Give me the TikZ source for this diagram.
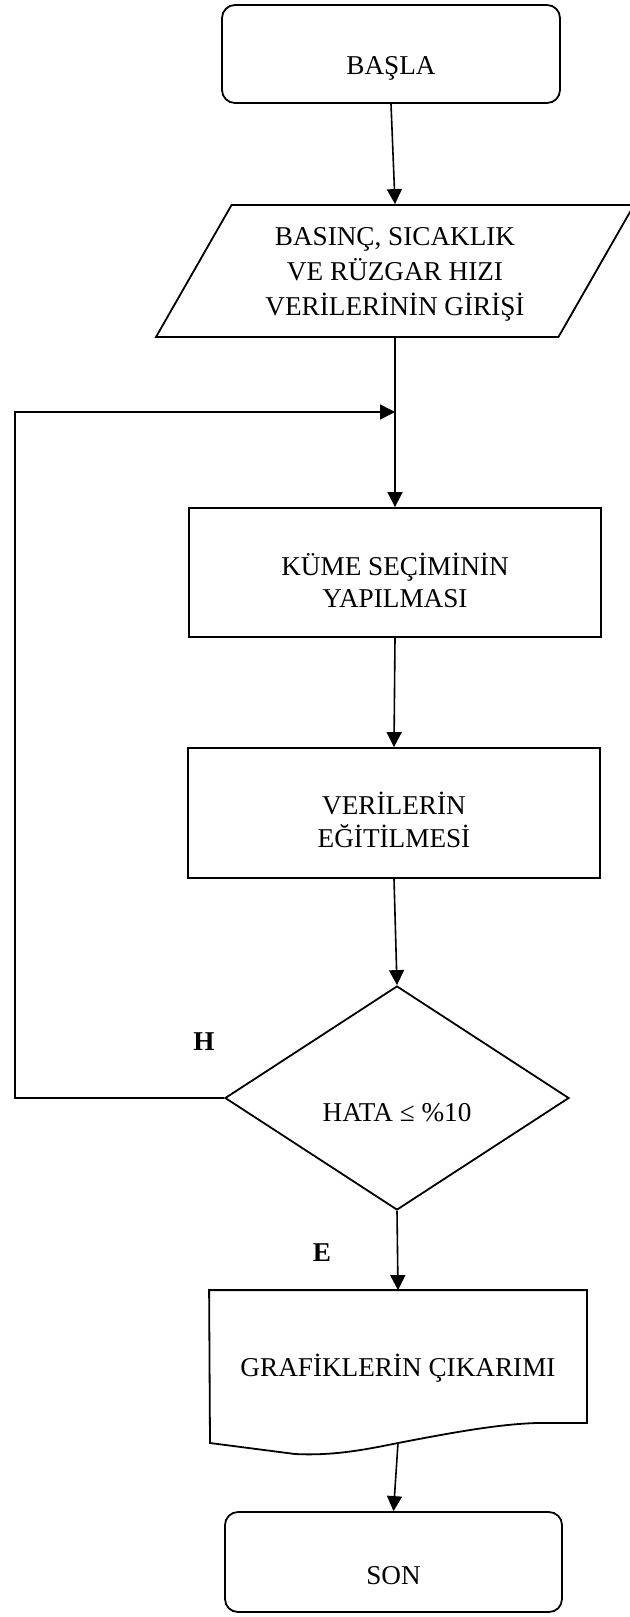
\documentclass[tikz,border=0pt]{standalone}
\usepackage{fontspec}
\setmainfont{Liberation Serif}
\usetikzlibrary{arrows.meta,shapes.geometric}
% text with a top strut (#1) and a fixed depth, so it sits a bit low in its box
\newcommand{\yazi}[2]{\rule{0pt}{#1}#2\rule[-4pt]{0pt}{0pt}}

\begin{document}
\begin{tikzpicture}[x=0.5pt,y=0.5pt,yscale=-1,xscale=1,
    kutu/.style={draw,line width=0.9pt,inner sep=0pt,align=center,font=\fontsize{13.6pt}{16.3pt}\selectfont},
    yuvarlak/.style={kutu,rectangle,rounded corners=6.5pt},
    ok/.style={line width=0.8pt,-{Triangle[length=7.5pt,width=7.5pt]}},
    harf/.style={font=\fontsize{13.6pt}{16pt}\selectfont\bfseries,inner sep=0pt}]
        \useasboundingbox (0,0) rectangle (629,1617);

        %Shape: Rounded Rect
        \node[yuvarlak,minimum width=169pt,minimum height=49pt] (basla) at (391,54) {\yazi{24pt}{BAŞLA}};
        %Shape: Parallelogram
        \node[kutu,trapezium,trapezium left angle=54,trapezium right angle=126,trapezium stretches body,minimum width=239pt,minimum height=66pt] (giris) at (395,271) {\yazi{13pt}{BASINÇ, SICAKLIK\\[1.2pt]VE RÜZGAR HIZI\\[1.2pt]VERİLERİNİN GİRİŞİ}};
        %Shape: Rectangle
        \node[kutu,rectangle,minimum width=206pt,minimum height=64.5pt] (kume) at (395,572.5) {\yazi{23pt}{KÜME SEÇİMİNİN\\YAPILMASI}};
        %Shape: Rectangle
        \node[kutu,rectangle,minimum width=206pt,minimum height=65pt] (veri) at (394,813) {\yazi{22pt}{VERİLERİN\\EĞİTİLMESİ}};
        %Shape: Diamond
        \node[kutu,diamond,minimum width=172pt,minimum height=112pt] (karar) at (397,1098) {\yazi{27pt}{HATA ≤ \%10}};
        %Shape: Document
        \node[kutu,draw=none,rectangle,minimum width=188pt,minimum height=65.5pt] (grafik) at (398,1356.5) {\yazi{23.5pt}{GRAFİKLERİN ÇIKARIMI}};
        \coordinate (dalga) at (398,1443);
        \draw[line width=0.9pt] (grafik.south east) -- (grafik.north east) -- (grafik.north west) -- (210,1443) -- (295,1454) .. controls (335,1456) and (368,1449) .. (dalga) .. controls (455,1432) and (500,1424) .. (537,1423) -- cycle ;
        %Shape: Rounded Rect
        \node[yuvarlak,minimum width=168.5pt,minimum height=50pt] (son) at (393.5,1562) {\yazi{26pt}{SON}};

        %Straight Lines
        \draw[ok] (basla.south) -- (giris.north);
        \draw[ok] (giris.south) -- (kume.north);
        \draw[ok] (kume.south) -- (veri.north);
        \draw[ok] (veri.south) -- (karar.north);
        \draw[ok] (karar.south) -- (grafik.north);
        \draw[ok] (dalga) -- (son.north);
        %Straight Lines (back loop)
        \coordinate (sol) at (15,412);
        \coordinate (birlesme) at (395,412);
        \draw[ok] (karar.west) -| (sol) -- (birlesme);

        % Text Node
        \node[harf] (hayir) at (204,1042) {H};
        % Text Node
        \node[harf] (evet) at (322,1253) {E};
\end{tikzpicture}
\end{document}
